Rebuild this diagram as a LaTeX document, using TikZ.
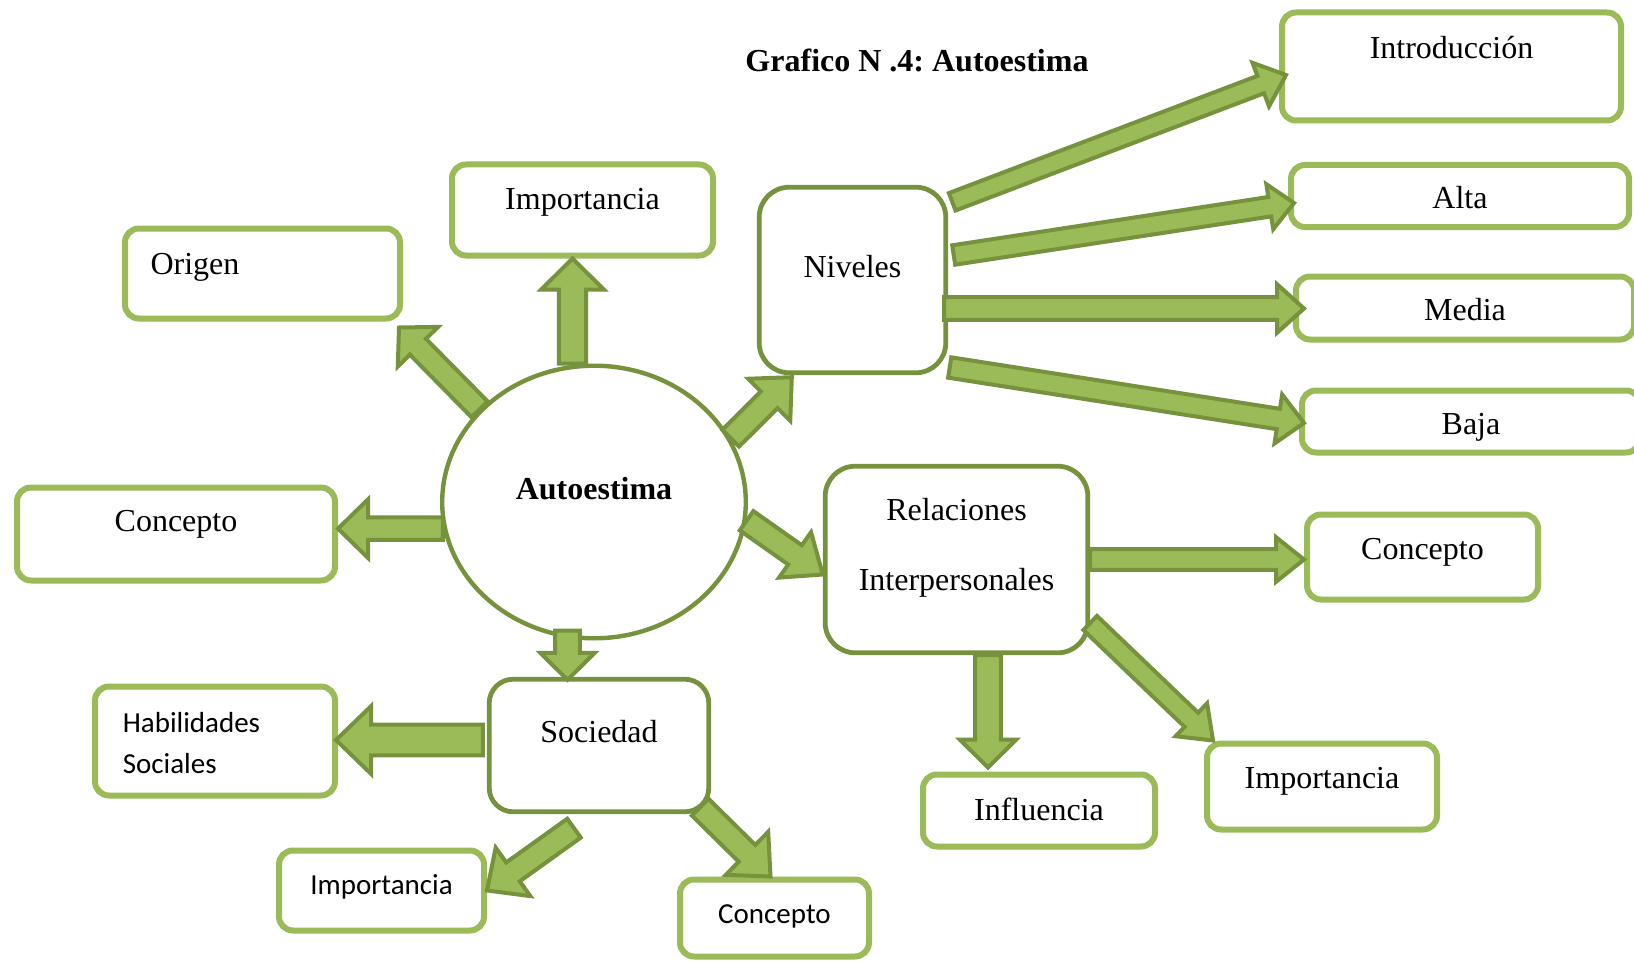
\documentclass[tikz,border=0pt]{standalone}
\usepackage{fontspec}
\setmainfont{Liberation Serif}
\newfontfamily\calibri{Carlito}
\usetikzlibrary{calc}
\usetikzlibrary{shapes.geometric}

\definecolor{boxgreen}{HTML}{9BBB59}
\definecolor{darkgreen}{HTML}{76923C}

%% block arrow: shaft half width, head half width, head length, from, to
\newcommand{\blockarrow}[5]{%
  \coordinate (ba-s) at (#4);
  \coordinate (ba-t) at (#5);
  \coordinate (ba-h) at ($(ba-t)!#3!(ba-s)$);
  \draw[arrowDecorate]
    ($(ba-s)!#1!90:(ba-t)$) -- ($(ba-h)!#1!90:(ba-t)$) -- ($(ba-h)!#2!90:(ba-t)$)
    -- (ba-t)
    -- ($(ba-h)!#2!-90:(ba-t)$) -- ($(ba-h)!#1!-90:(ba-t)$) -- ($(ba-s)!#1!-90:(ba-t)$)
    -- cycle;
}

\begin{document}
\frenchspacing
\begin{tikzpicture}
[x=0.5pt,y=-0.5pt,%
  boxDecorate/.style={draw=boxgreen,line width=3pt,rounded corners=7pt,fill=white,inner sep=0pt},%
  mainDecorate/.style={draw=darkgreen,line width=2.4pt,rounded corners=15pt,fill=white,inner sep=0pt},%
  arrowDecorate/.style={draw=darkgreen,fill=boxgreen,line width=2pt,line join=miter},%
  serifText/.style={font=\fontsize{16}{19}\selectfont},%
  sansText/.style={font=\calibri\fontsize{14.5}{20.3}\selectfont}]
\useasboundingbox (0,0) rectangle (1634,963);

%% title
\node[font=\bfseries\fontsize{16}{19}\selectfont] (title) at (917,60) {Grafico N .4: Autoestima};

%% central node
\node[ellipse,draw=darkgreen,line width=2.2pt,fill=white,inner sep=0pt,
  minimum width=151.8pt,minimum height=136.3pt,
  label={[font=\bfseries\fontsize{16}{19}\selectfont,yshift=6.5pt]center:Autoestima}] (auto) at (594,502) {};

%% second level
\node[mainDecorate,minimum width=93.3pt,minimum height=92.8pt,
  label={[serifText,yshift=6.5pt]center:Niveles}] (niveles) at (852.5,280) {};
\node[mainDecorate,minimum width=131.3pt,minimum height=93.3pt,
  label={[serifText,font=\fontsize{16}{35}\selectfont,align=center,yshift=5.75pt]center:Relaciones\\Interpersonales}] (rel) at (956.5,559.5) {};
\node[mainDecorate,rounded corners=12pt,minimum width=109.8pt,minimum height=66.3pt,
  label={[serifText,yshift=7pt]center:Sociedad}] (soc) at (599,745.5) {};

%% leaves
\node[boxDecorate,minimum width=130.5pt,minimum height=45.5pt,
  label={[serifText,yshift=4pt]center:Importancia}] (imp1) at (582.5,210) {};
\node[boxDecorate,minimum width=137.5pt,minimum height=45pt,
  label={[serifText,xshift=-33.75pt,yshift=3.25pt]center:Origen}] (origen) at (262.5,273.5) {};
\node[boxDecorate,minimum width=159pt,minimum height=46.5pt,
  label={[serifText,yshift=5pt]center:Concepto}] (con1) at (176,534) {};
\node[boxDecorate,minimum width=169.5pt,minimum height=54pt,
  label={[serifText,yshift=9.25pt]center:Introducción}] (intro) at (1451.5,66.5) {};
\node[boxDecorate,minimum width=169pt,minimum height=31pt,
  label={[serifText,yshift=-1pt]center:Alta}] (alta) at (1460,196) {};
\node[boxDecorate,minimum width=169pt,minimum height=31.5pt,
  label={[serifText,yshift=-1pt]center:Media}] (media) at (1465,308) {};
\node[boxDecorate,minimum width=169pt,minimum height=31pt,
  label={[serifText,yshift=-3pt]center:Baja}] (baja) at (1471,421.5) {};
\node[boxDecorate,minimum width=115.5pt,minimum height=42.5pt,
  label={[serifText,yshift=2.5pt]center:Concepto}] (con2) at (1422.5,557) {};
\node[boxDecorate,minimum width=116pt,minimum height=36pt,
  label={[serifText,yshift=0.75pt]center:Influencia}] (infl) at (1039,810.5) {};
\node[boxDecorate,minimum width=115pt,minimum height=43pt,
  label={[serifText,yshift=2.5pt]center:Importancia}] (imp2) at (1322,786.5) {};
\node[boxDecorate,minimum width=120pt,minimum height=54.5pt,
  label={[sansText,align=left,xshift=-11.75pt,yshift=-1pt]center:Habilidades\\Sociales}] (hab) at (215,741) {};
\node[boxDecorate,minimum width=102.5pt,minimum height=40pt,
  label={[sansText,yshift=1.75pt]center:Importancia}] (imp3) at (381.5,890.5) {};
\node[boxDecorate,minimum width=94.5pt,minimum height=38.5pt,
  label={[sansText,yshift=1pt]center:Concepto}] (con3) at (774.5,918) {};

%% arrows from Autoestima
\blockarrow{6.8pt}{15.65pt}{15.5pt}{[xshift=-10.75pt]auto.north}{[xshift=-5pt]imp1.south}
\blockarrow{5.65pt}{14.15pt}{13.5pt}{auto.141}{[xshift=-2pt,yshift=-3pt]origen.south east}
\blockarrow{5.65pt}{14.65pt}{15pt}{auto.190}{con1.east |- auto.190}
\blockarrow{5.9pt}{14.9pt}{16pt}{auto.25}{[xshift=17.5pt,yshift=-1pt]niveles.south west}
\blockarrow{5.9pt}{13.9pt}{17pt}{auto.-7}{[yshift=-7.5pt]rel.west}
\blockarrow{6.15pt}{13.65pt}{13.5pt}{[xshift=-13.25pt,yshift=5pt]auto.south}{[xshift=-15.75pt,yshift=-1.5pt]soc.north}

%% arrows from Niveles
\blockarrow{4.65pt}{11.65pt}{13.5pt}{[xshift=2pt,yshift=-8.5pt]niveles.north east}{[xshift=3.5pt,yshift=-4.25pt]intro.west}
\blockarrow{4.9pt}{11.4pt}{12.25pt}{[xshift=2.75pt,yshift=12.5pt]niveles.east}{[xshift=3pt,yshift=-3.5pt]alta.west}
\blockarrow{5.65pt}{12.15pt}{13.5pt}{[xshift=-2pt,yshift=-14.25pt]niveles.east}{[xshift=5.5pt,yshift=-0.25pt]media.west}
\blockarrow{5.15pt}{12.4pt}{13pt}{[xshift=0.75pt,yshift=-43.75pt]niveles.east}{[xshift=2.5pt,yshift=-0.75pt]baja.west}

%% arrows from Relaciones
\blockarrow{5.15pt}{11.15pt}{14pt}{rel.east}{con2.west |- rel.east}
\blockarrow{6.4pt}{14.15pt}{14pt}{[xshift=15.75pt]rel.south}{[xshift=-25.5pt,yshift=2pt]infl.north}
\blockarrow{4.9pt}{11.4pt}{15pt}{[yshift=-31.75pt]rel.east}{[xshift=4.5pt]imp2.north west}

%% arrows from Sociedad
\blockarrow{7.65pt}{16.9pt}{17.5pt}{[xshift=-2pt,yshift=2.75pt]soc.west}{[xshift=-1pt,yshift=0.5pt]hab.east}
\blockarrow{5.8pt}{14.9pt}{16pt}{[xshift=-12.5pt,yshift=-7pt]soc.south}{imp3.east}
\blockarrow{5.9pt}{15.1pt}{16.5pt}{[xshift=-5.5pt,yshift=3.5pt]soc.south east}{[xshift=-2pt]con3.north}
\end{tikzpicture}
\end{document}
